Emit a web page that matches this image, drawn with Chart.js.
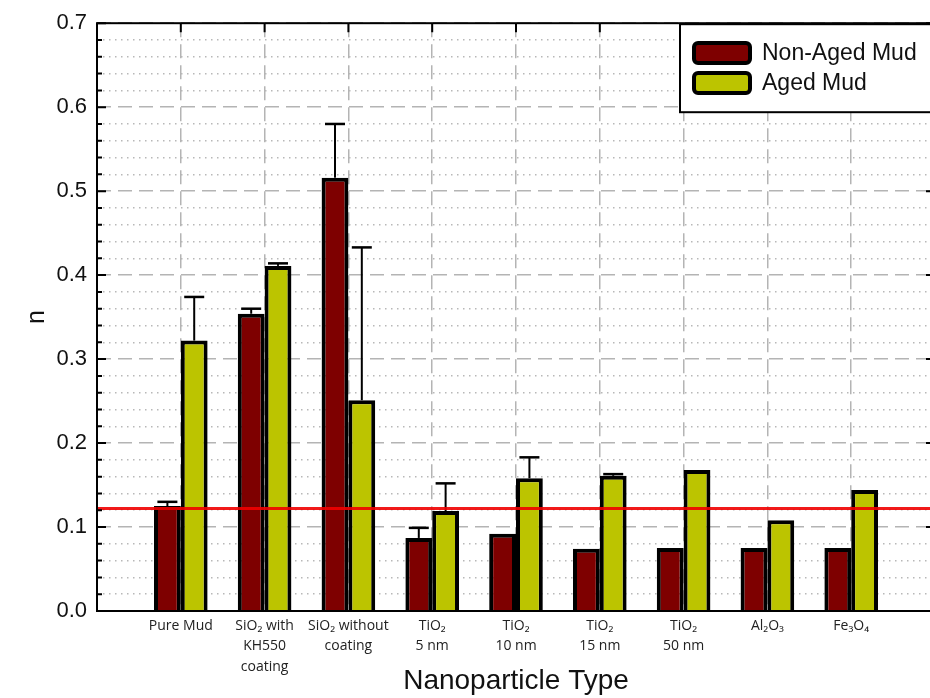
<!DOCTYPE html>
<html>
<head>
<meta charset="UTF-8" />
<title>n by nanoparticle type</title>
<script src="https://cdn.jsdelivr.net/npm/chart.js"></script>
<style>
html, body { margin:0; padding:0; background:#fff; overflow:hidden; }
#wrap { position:relative; width:940px; height:698px; }
</style>
</head>
<body>
<div id="wrap"><canvas id="chart"></canvas></div>

<script>
// categories (x positions 1..9)
const categories = [
  ['Pure Mud'],
  ['SiO\u2082 with', 'KH550', 'coating'],
  ['SiO\u2082 without', 'coating'],
  ['TiO\u2082', '5 nm'],
  ['TiO\u2082', '10 nm'],
  ['TiO\u2082', '15 nm'],
  ['TiO\u2082', '50 nm'],
  ['Al\u2082O\u2083'],
  ['Fe\u2083O\u2084']
];
const nonAged = [0.125, 0.354, 0.516, 0.087, 0.092, 0.074, 0.075, 0.075, 0.075];
const aged    = [0.322, 0.411, 0.251, 0.119, 0.158, 0.161, 0.168, 0.108, 0.144];
// upper error (only drawn upward)
const nonAgedErr = [0.005, 0.006, 0.064, 0.012, null, null, null, null, null];
const agedErr    = [0.052, 0.003, 0.182, 0.033, 0.025, 0.002, null, null, null];
const refLine = 0.122;
const yTicks = [0, 0.1, 0.2, 0.3, 0.4, 0.5, 0.6, 0.7];

const RED = '#7e0000';
const YEL = '#bcc400';
const GRID = '#b4b4b4';

const pts = arr => arr.map((v, i) => ({ x: i + 1, y: v }));

const decor = {
  id: 'decor',
  afterDatasetsDraw(chart) {
    const { ctx, chartArea: a, scales: { x, y } } = chart;
    ctx.save();

    // error bars
    [[nonAged, nonAgedErr], [aged, agedErr]].forEach(([vals, errs], di) => {
      const meta = chart.getDatasetMeta(di);
      meta.data.forEach((bar, i) => {
        if (errs[i] == null) return;
        const top = y.getPixelForValue(vals[i] + errs[i]);
        ctx.strokeStyle = '#000';
        ctx.lineWidth = 2;
        ctx.beginPath();
        ctx.moveTo(bar.x, bar.y);
        ctx.lineTo(bar.x, top);
        ctx.stroke();
        ctx.lineWidth = 2.5;
        ctx.beginPath();
        ctx.moveTo(bar.x - 10, top);
        ctx.lineTo(bar.x + 10, top);
        ctx.stroke();
      });
    });

    // reference line
    const ry = y.getPixelForValue(refLine);
    ctx.strokeStyle = 'rgba(240,0,0,0.9)';
    ctx.lineWidth = 3;
    ctx.beginPath();
    ctx.moveTo(a.left, ry);
    ctx.lineTo(a.right, ry);
    ctx.stroke();

    // frame
    ctx.strokeStyle = '#000';
    ctx.lineWidth = 2;
    ctx.strokeRect(a.left, a.top, a.right - a.left, a.bottom - a.top);

    // inward ticks
    ctx.lineWidth = 2;
    ctx.beginPath();
    for (let k = 0; k <= 35; k++) {
      const py = y.getPixelForValue(k * 0.02);
      const len = k % 5 === 0 ? 9 : 5;
      ctx.moveTo(a.left, py); ctx.lineTo(a.left + len, py);
      ctx.moveTo(a.right, py); ctx.lineTo(a.right - len, py);
    }
    for (let i = 1; i <= categories.length; i++) {
      const px = x.getPixelForValue(i);
      ctx.moveTo(px, a.top); ctx.lineTo(px, a.top + 9);
    }
    ctx.stroke();
    ctx.restore();
  },
  afterDraw(chart) {
    const { ctx, chartArea: a } = chart;
    ctx.save();
    // legend box
    const bx = 680, by = a.top + 1, bw = 300, bh = 88;
    ctx.fillStyle = '#fff';
    ctx.fillRect(bx, by, bw, bh);
    ctx.strokeStyle = '#000';
    ctx.lineWidth = 2;
    ctx.strokeRect(bx, by, bw, bh);
    const items = [['Non-Aged Mud', RED, 53], ['Aged Mud', YEL, 83]];
    ctx.font = '23px "Liberation Sans", Arial, sans-serif';
    ctx.textBaseline = 'middle';
    items.forEach(([label, col, cy]) => {
      ctx.beginPath();
      ctx.roundRect(694, cy - 10, 56, 20, 4);
      ctx.fillStyle = col;
      ctx.fill();
      ctx.lineWidth = 4;
      ctx.strokeStyle = '#000';
      ctx.stroke();
      ctx.fillStyle = '#111';
      ctx.fillText(label, 762, cy + 1);
    });
    ctx.restore();
  }
};

new Chart(document.getElementById('chart'), {
  type: 'bar',
  data: {
    datasets: [
      { label: 'Non-Aged Mud', data: pts(nonAged), backgroundColor: RED, borderColor: '#000', borderWidth: 4 },
      { label: 'Aged Mud', data: pts(aged), backgroundColor: YEL, borderColor: '#000', borderWidth: 4 }
    ]
  },
  options: {
    responsive: true,
    maintainAspectRatio: false,
    animation: false,
    layout: { padding: { left: 0, top: 21, right: 4, bottom: 0 } },
    categoryPercentage: 0.64,
    barPercentage: 1.0,
    plugins: { legend: { display: false }, tooltip: { enabled: false } },
    scales: {
      x: {
        type: 'linear',
        offset: false,
        min: 0, max: 10,
        afterFit: s => { s.height = 87; },
        ticks: {
          stepSize: 1,
          autoSkip: false,
          maxRotation: 0,
          padding: 5,
          color: '#222',
          font: { family: '"Open Sans", sans-serif', size: 14, lineHeight: 1.45 },
          callback: v => categories[v - 1] || ''
        },
        grid: { color: GRID, lineWidth: 1.5, drawTicks: false, offset: false },
        border: { display: false, dash: [14, 7] },
        title: {
          display: true,
          text: 'Nanoparticle Type',
          color: '#111',
          font: { family: '"Liberation Sans", Arial, sans-serif', size: 28 },
          padding: { top: 0, bottom: 0 }
        }
      },
      y2: {
        position: 'left',
        min: 0, max: 0.7,
        afterFit: s => { s.width = 0; },
        ticks: { display: false, stepSize: 0.02, autoSkip: false },
        grid: {
          drawTicks: false,
          lineWidth: 1.5,
          color: c => {
            const v = c.tick.value * 10;
            return Math.abs(v - Math.round(v)) < 1e-6 ? 'rgba(0,0,0,0)' : '#b8b8b8';
          }
        },
        border: { display: false, dash: [1.5, 4.5] }
      },
      y: {
        position: 'left',
        min: 0, max: 0.7,
        afterFit: s => { s.width = 97; },
        afterBuildTicks: s => { s.ticks = yTicks.map(v => ({ value: v })); },
        ticks: {
          padding: 10,
          color: '#111',
          font: { family: '"Liberation Sans", Arial, sans-serif', size: 22 },
          callback: v => v.toFixed(1)
        },
        grid: { color: GRID, lineWidth: 1.5, drawTicks: false },
        border: { display: false, dash: [14, 7] },
        title: {
          display: true,
          text: 'n',
          color: '#111',
          font: { family: '"Liberation Sans", Arial, sans-serif', size: 25 },
          padding: { top: 22, bottom: 0 }
        }
      }
    }
  },
  plugins: [decor]
});
</script>
</body>
</html>
